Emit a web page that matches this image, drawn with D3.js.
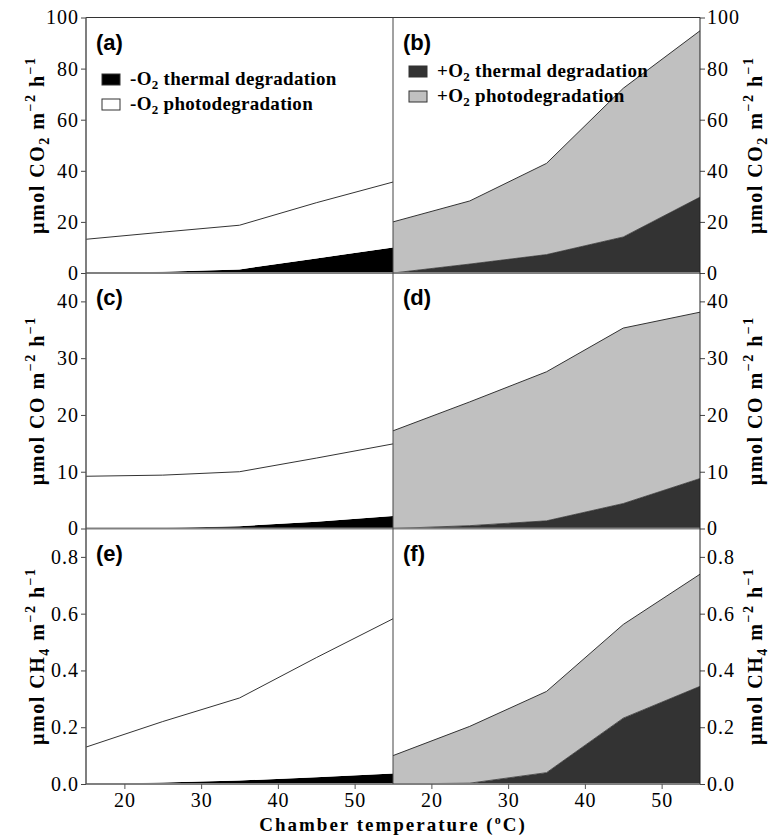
<!DOCTYPE html>
<meta charset="utf-8">
<title>Degradation fluxes</title>
<style>
body { margin: 0; background: #fff; }
svg text { font-family: "Liberation Serif", "Times New Roman", serif; fill: #000; }
.tick text { font-size: 20px; letter-spacing: 1px; }
.panel-label { font-family: "Liberation Sans", Arial, sans-serif; font-weight: bold; font-size: 22px; }
.ytitle, .xtitle, .legend text { font-weight: bold; }
</style>
<body>
<script src="https://cdn.jsdelivr.net/npm/d3@7"></script>
<script>

var temps = [15, 25, 35, 45, 55];
var xTicks = [20, 30, 40, 50];

// CO2
var co2ThermalNoO2 = [0, 0.5, 1.4, 5.7, 10];
var co2PhotoNoO2   = [13.2, 15.5, 17.3, 21.8, 25.6];
var co2ThermalO2   = [0, 3.5, 7.2, 14.1, 29.7];
var co2PhotoO2     = [20, 24.7, 35.7, 58.2, 65.1];
// CO
var coThermalNoO2  = [0, 0.1, 0.4, 1.2, 2.2];
var coPhotoNoO2    = [9.2, 9.3, 9.6, 11.2, 12.7];
var coThermalO2    = [0, 0.5, 1.35, 4.4, 8.8];
var coPhotoO2      = [17.2, 21.8, 26.25, 30.9, 29.3];
// CH4
var ch4ThermalNoO2 = [0, 0.005, 0.012, 0.024, 0.037];
var ch4PhotoNoO2   = [0.13, 0.215, 0.291, 0.421, 0.545];
var ch4ThermalO2   = [0, 0.003, 0.04, 0.232, 0.344];
var ch4PhotoO2     = [0.1, 0.2, 0.286, 0.33, 0.395];

var co2Ticks = [0, 20, 40, 60, 80, 100];
var coTicks  = [0, 10, 20, 30, 40];
var ch4Ticks = [0, 0.2, 0.4, 0.6, 0.8];

var legendNoO2 = ["-O", "thermal degradation", "photodegradation"];
var legendO2   = ["+O", "thermal degradation", "photodegradation"];

var padL = 86, colW = 307, padT = 17.5, rowH = 255.5;

var rows = [
  {max: 100, ticks: co2Ticks, fmt: d3.format("d"), gas: ["CO", "2"], data: [[co2ThermalNoO2, co2PhotoNoO2], [co2ThermalO2, co2PhotoO2]]},
  {max: 45, ticks: coTicks, fmt: d3.format("d"), gas: ["CO", ""], data: [[coThermalNoO2, coPhotoNoO2], [coThermalO2, coPhotoO2]]},
  {max: 0.9, ticks: ch4Ticks, fmt: d3.format(".1f"), gas: ["CH", "4"], data: [[ch4ThermalNoO2, ch4PhotoNoO2], [ch4ThermalO2, ch4PhotoO2]]}
];
var letters = [["(a)", "(b)"], ["(c)", "(d)"], ["(e)", "(f)"]];
var fills = [["#000", "#fff"], ["#333", "#c0c0c0"]];

var svg = d3.select("body").append("svg")
    .attr("width", 770)
    .attr("height", 837);

rows.forEach(function(r, ri) {
  var y0 = padT + ri * rowH;
  var y = d3.scaleLinear().domain([0, r.max]).range([y0 + rowH, y0]);

  [0, 1].forEach(function(ci) {
    var x0 = padL + ci * colW;
    var x = d3.scaleLinear().domain([15, 55]).range([x0, x0 + colW]);
    var rowsData = temps.map(function(t, i) {
      return {t: t, thermal: r.data[ci][0][i], photo: r.data[ci][1][i]};
    });
    var series = d3.stack().keys(["thermal", "photo"])(rowsData);
    var area = d3.area()
        .x(function(d) { return x(d.data.t); })
        .y0(function(d) { return y(d[0]); })
        .y1(function(d) { return y(d[1]); });
    var topLine = d3.line()
        .x(function(d) { return x(d.data.t); })
        .y(function(d) { return y(d[1]); });

    var g = svg.append("g");
    g.selectAll("path.area")
      .data(series)
      .enter().append("path")
        .attr("class", "area")
        .attr("d", area)
        .attr("fill", function(d, i) { return fills[ci][i]; });
    g.selectAll("path.edge")
      .data(series)
      .enter().append("path")
        .attr("class", "edge")
        .attr("d", topLine)
        .attr("fill", "none")
        .attr("stroke", "#333")
        .attr("stroke-width", function(d, i) { return i == 1 ? 1 : (ci == 1 ? 0.8 : 0); });

    // zero baseline
    g.append("line")
        .attr("x1", x0).attr("x2", x0 + colW)
        .attr("y1", y(0)).attr("y2", y(0))
        .attr("stroke", "#808080")
        .attr("stroke-width", 2);

    g.append("text")
        .attr("class", "panel-label")
        .attr("x", x0 + 10)
        .attr("y", y0 + 32)
        .text(letters[ri][ci]);

    if (ri == 2) {
      svg.append("g")
          .attr("transform", "translate(0," + y(0) + ")")
          .call(d3.axisBottom(x).tickValues(xTicks).tickSize(5).tickPadding(4))
          .call(function(a) {
            a.select(".domain").remove();
            a.selectAll("line").attr("stroke", "#555");
          });
    }
  });

  // y axes
  var axL = svg.append("g")
      .attr("transform", "translate(" + padL + ",0)")
      .call(d3.axisLeft(y).tickValues(r.ticks).tickFormat(r.fmt).tickSize(5).tickPadding(2));
  var axR = svg.append("g")
      .attr("transform", "translate(" + (padL + 2 * colW) + ",0)")
      .call(d3.axisRight(y).tickValues(r.ticks).tickFormat(r.fmt).tickSize(5).tickPadding(2));
  [axL, axR].forEach(function(a) {
    a.select(".domain").remove();
    a.selectAll("line").attr("stroke", "#444");
  });

  // y titles
  [{x: 44}, {x: 762}].forEach(function(p) {
    var t = svg.append("text")
        .attr("class", "ytitle")
        .attr("transform", "translate(" + p.x + "," + (y0 + rowH / 2) + ")rotate(-90)")
        .attr("text-anchor", "middle")
        .style("font-size", "20px")
        .style("letter-spacing", "1.5px");
    t.append("tspan").text("\u00b5mol " + r.gas[0]);
    if (r.gas[1]) t.append("tspan").attr("dy", 5).style("font-size", "14px").text(r.gas[1]);
    t.append("tspan").attr("dy", r.gas[1] ? -5 : 0).text(" m");
    t.append("tspan").attr("dy", -9).style("font-size", "14px").text("\u22122");
    t.append("tspan").attr("dy", 9).text(" h");
    t.append("tspan").attr("dy", -9).style("font-size", "14px").text("\u22121");
  });
});

// frame
var bottomY = padT + 3 * rowH;
svg.append("line").attr("x1", padL).attr("x2", padL + 2 * colW).attr("y1", padT).attr("y2", padT)
    .attr("stroke", "#333").attr("stroke-width", 1);
svg.append("line").attr("x1", padL).attr("x2", padL).attr("y1", padT).attr("y2", bottomY)
    .attr("stroke", "#555").attr("stroke-width", 1.5);
svg.append("line").attr("x1", padL + colW).attr("x2", padL + colW).attr("y1", padT).attr("y2", bottomY)
    .attr("stroke", "#444").attr("stroke-width", 1);
svg.append("line").attr("x1", padL + 2 * colW).attr("x2", padL + 2 * colW).attr("y1", padT).attr("y2", bottomY)
    .attr("stroke", "#222").attr("stroke-width", 1);

// legends
function legend(items, fillArr, lx, ly) {
  var lg = svg.append("g").attr("class", "legend");
  [1, 2].forEach(function(k, i) {
    var yy = ly + i * 25;
    lg.append("rect")
        .attr("x", lx).attr("y", yy - 10)
        .attr("width", 18).attr("height", 11)
        .attr("fill", fillArr[i])
        .attr("stroke", "#333").attr("stroke-width", 1);
    var t = lg.append("text").attr("x", lx + 28).attr("y", yy + 1)
        .style("font-size", "19px").style("letter-spacing", "0.3px");
    t.append("tspan").text(items[0]);
    t.append("tspan").attr("dy", 4).style("font-size", "13px").text("2");
    t.append("tspan").attr("dy", -4).text(" " + items[k]);
  });
}
legend(legendNoO2, fills[0], 102, 84);
legend(legendO2, fills[1], 409, 76);

// x title
var xt = svg.append("text")
    .attr("class", "xtitle")
    .attr("x", padL + colW)
    .attr("y", 831)
    .attr("text-anchor", "middle")
    .style("font-size", "19px")
    .style("letter-spacing", "2px");
xt.append("tspan").text("Chamber temperature (");
xt.append("tspan").attr("dy", -7).style("font-size", "12px").text("o");
xt.append("tspan").attr("dy", 7).text("C)");

</script>
